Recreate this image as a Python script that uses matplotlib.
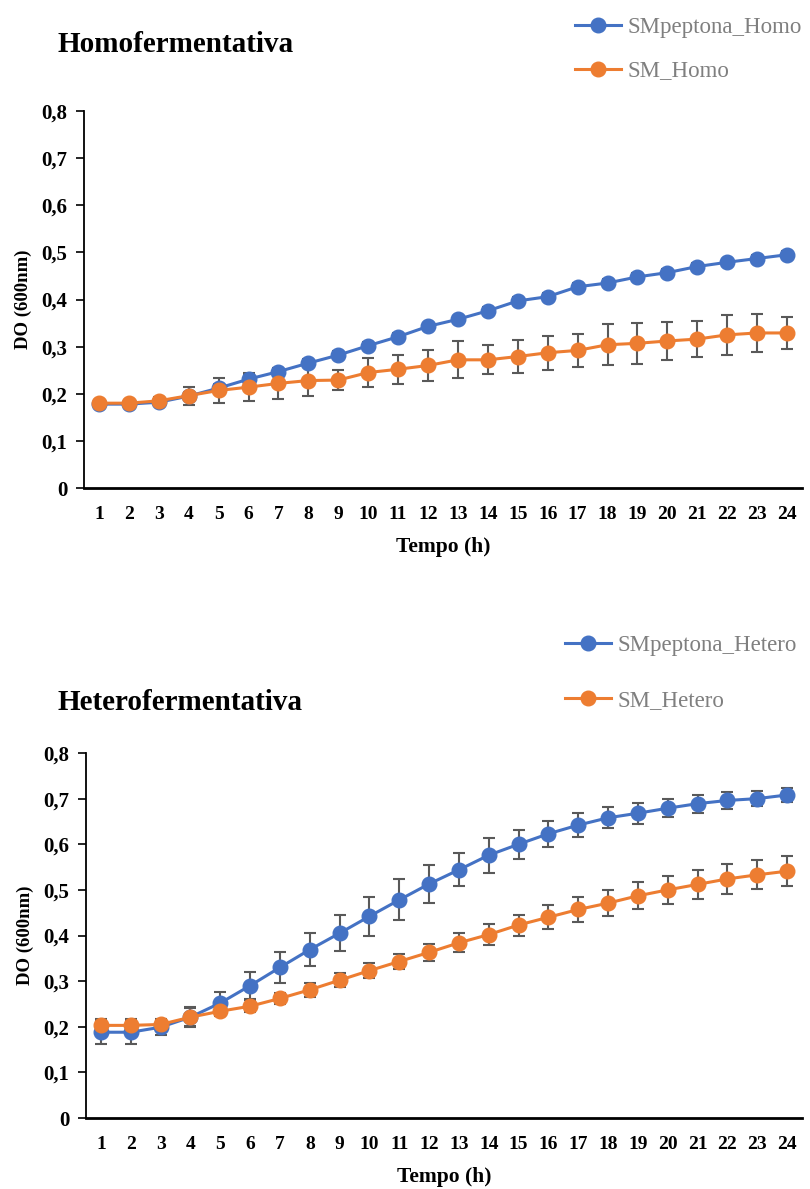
import matplotlib.pyplot as plt
from matplotlib.lines import Line2D

plt.rcParams['font.family'] = ['Liberation Serif', 'DejaVu Serif']

horas = list(range(1, 25))

# Homofermentativa
sm_pep_homo = [0.178, 0.178, 0.182, 0.195, 0.212, 0.231, 0.247, 0.265, 0.282, 0.302, 0.321, 0.343,
               0.358, 0.376, 0.397, 0.406, 0.427, 0.435, 0.448, 0.457, 0.470, 0.479, 0.487, 0.495]
sm_pep_homo_err = [0.006, 0.006, 0.006, 0.008, 0.008, 0.010, 0.008, 0.008, 0.008, 0.008, 0.008, 0.008,
                   0.008, 0.008, 0.008, 0.008, 0.008, 0.008, 0.008, 0.008, 0.008, 0.008, 0.008, 0.008]
sm_homo = [0.180, 0.180, 0.185, 0.196, 0.207, 0.214, 0.222, 0.228, 0.229, 0.245, 0.252, 0.260,
           0.272, 0.272, 0.279, 0.287, 0.292, 0.304, 0.307, 0.312, 0.316, 0.325, 0.329, 0.329]
sm_homo_err = [0.006, 0.006, 0.008, 0.019, 0.027, 0.030, 0.033, 0.033, 0.021, 0.031, 0.031, 0.033,
               0.039, 0.031, 0.035, 0.036, 0.035, 0.043, 0.043, 0.041, 0.039, 0.043, 0.040, 0.034]

# Heterofermentativa
sm_pep_hetero = [0.188, 0.188, 0.199, 0.221, 0.252, 0.290, 0.330, 0.369, 0.405, 0.442, 0.478, 0.513,
                 0.544, 0.576, 0.600, 0.623, 0.642, 0.658, 0.668, 0.679, 0.689, 0.696, 0.700, 0.708]
sm_pep_hetero_err = [0.026, 0.026, 0.016, 0.022, 0.025, 0.030, 0.034, 0.036, 0.039, 0.043, 0.045, 0.041,
                     0.036, 0.038, 0.032, 0.028, 0.027, 0.023, 0.023, 0.020, 0.020, 0.018, 0.016, 0.016]
sm_hetero = [0.203, 0.203, 0.205, 0.221, 0.234, 0.245, 0.262, 0.281, 0.302, 0.323, 0.343, 0.363,
             0.384, 0.402, 0.423, 0.440, 0.457, 0.471, 0.487, 0.500, 0.512, 0.524, 0.533, 0.541]
sm_hetero_err = [0.013, 0.013, 0.012, 0.020, 0.010, 0.013, 0.013, 0.015, 0.015, 0.016, 0.017, 0.018,
                 0.021, 0.023, 0.023, 0.026, 0.028, 0.029, 0.030, 0.030, 0.032, 0.033, 0.032, 0.033]

yticks = [0, 0.1, 0.2, 0.3, 0.4, 0.5, 0.6, 0.7, 0.8]
ytick_labels = ['0', '0,1', '0,2', '0,3', '0,4', '0,5', '0,6', '0,7', '0,8']

azul = '#4472C4'
laranja = '#ED7D31'
cinza = '#595959'

W, H = 810, 1189
fig = plt.figure(figsize=(W / 100, H / 100), dpi=100)


def painel(box, titulo, title_xy, series, leg_xy, leg_spacing):
    x0, y0, x1, y1 = box
    ax = fig.add_axes([x0 / W, 1 - y1 / H, (x1 - x0) / W, (y1 - y0) / H])
    handles = []
    for vals, errs, cor, nome in series:
        ax.errorbar(horas, vals, yerr=errs, color=cor, marker='o', markersize=10.5,
                    linewidth=2.2, ecolor=cinza, elinewidth=1.5, capsize=4, capthick=1.5,
                    zorder=3)
        handles.append(Line2D([], [], color=cor, marker='o', markersize=10.5,
                              linewidth=2.2, label=nome))
    ax.set_xlim(0.5, 24.5)
    ax.set_ylim(0, 0.8)
    ax.set_yticks(yticks)
    ax.set_yticklabels(ytick_labels)
    ax.set_xticks(horas)
    ax.tick_params(axis='y', direction='out', length=6, width=1.2, labelsize=15, pad=6)
    ax.tick_params(axis='x', length=0, labelsize=14, pad=13)
    for lab in ax.get_xticklabels() + ax.get_yticklabels():
        lab.set_fontweight('bold')
    for s in ['top', 'right']:
        ax.spines[s].set_visible(False)
    ax.spines['left'].set_linewidth(1.3)
    ax.spines['bottom'].set_linewidth(2)
    ax.set_xlabel('Tempo (h)', fontsize=15.5, fontweight='bold', labelpad=10)
    ax.set_ylabel('DO (600nm)', fontsize=13.5, fontweight='bold', labelpad=7)
    fig.text(title_xy[0] / W, 1 - title_xy[1] / H, titulo, fontsize=21,
             fontweight='bold', va='center', ha='left')
    leg = fig.legend(handles=handles, loc='upper left',
                     bbox_to_anchor=(leg_xy[0] / W, 1 - leg_xy[1] / H),
                     frameon=False, fontsize=16.5, labelspacing=leg_spacing,
                     handlelength=2.0, handletextpad=0.3, borderaxespad=0, borderpad=0)
    for t in leg.get_texts():
        t.set_color('#7f7f7f')
    return ax


painel((84, 111, 802, 488), 'Homofermentativa', (57, 45),
       [(sm_pep_homo, sm_pep_homo_err, azul, 'SMpeptona_Homo'),
        (sm_homo, sm_homo_err, laranja, 'SM_Homo')], (575, 17), 0.98)

painel((86, 753, 802, 1118), 'Heterofermentativa', (57, 703),
       [(sm_pep_hetero, sm_pep_hetero_err, azul, 'SMpeptona_Hetero'),
        (sm_hetero, sm_hetero_err, laranja, 'SM_Hetero')], (565, 635), 1.5)

fig.savefig('out.png', dpi=100)
